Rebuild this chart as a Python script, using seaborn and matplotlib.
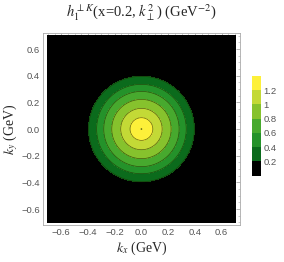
import numpy as np
import seaborn as sns
import matplotlib
import matplotlib.pyplot as plt
from matplotlib.colors import ListedColormap, BoundaryNorm

# radial profile: radius (GeV) where each level is crossed
radius = [0.0, 0.085, 0.155, 0.222, 0.282, 0.335, 0.395, 0.55, 0.75, 1.0]
value = [1.41, 1.2, 1.0, 0.8, 0.6, 0.4, 0.2, 0.06, 0.01, 0.0]

levels = [0.0, 0.2, 0.4, 0.6, 0.8, 1.0, 1.2, 1.4]
band_colors = ['#000000', '#0b6b1c', '#24922a', '#47a92e', '#86c22d', '#c3d936', '#fdf03a']
ticks = [-0.6, -0.4, -0.2, 0.0, 0.2, 0.4, 0.6]
cbar_ticks = [0.2, 0.4, 0.6, 0.8, 1.0, 1.2]

sns.set_style('white')
plt.rcParams['mathtext.fontset'] = 'stix'
plt.rcParams['font.family'] = ['Liberation Sans', 'DejaVu Sans']

# build the grid from the radial profile
k = np.linspace(-0.7, 0.7, 401)
kx, ky = np.meshgrid(k, k)
r = np.hypot(kx, ky)
z = np.interp(r, radius, value)

fig = plt.figure(figsize=(2.84, 2.62), dpi=100)
ax = fig.add_axes([0.151, 0.141, 0.694, 0.733])

cmap = ListedColormap(band_colors)
norm = BoundaryNorm(levels, cmap.N)
ax.contourf(kx, ky, z, levels=levels + [1.6], colors=band_colors + [band_colors[-1]])
ax.contour(kx, ky, z, levels=levels[1:], colors='#1e2a00', linewidths=0.5, alpha=0.7)

ax.set_xlim(-0.737, 0.737)
ax.set_ylim(-0.72, 0.72)
ax.set_aspect('auto')

grey = '#555555'
ax.set_xticks(ticks)
ax.set_yticks(ticks)
ax.set_xticklabels([f'{t:.1f}'.replace('-', '\u2212') for t in ticks])
ax.set_yticklabels([f'{t:.1f}'.replace('-', '\u2212') for t in ticks])
ax.set_xticks(np.arange(-0.7, 0.701, 0.05), minor=True)
ax.set_yticks(np.arange(-0.7, 0.701, 0.05), minor=True)
ax.tick_params(which='both', direction='in', top=True, right=True,
               color='#aaaaaa', labelsize=6.8, labelcolor=grey, pad=2)
ax.tick_params(which='major', length=3, width=0.6)
ax.tick_params(which='minor', length=1.5, width=0.4)
for s in ax.spines.values():
    s.set_color('#aaaaaa')
    s.set_linewidth(0.6)

serif = {'family': 'Liberation Serif', 'size': 10}
ax.set_xlabel(r'$k_x$ (GeV)', fontdict=serif, labelpad=2)
ax.set_ylabel(r'$k_y$ (GeV)', fontdict=serif, labelpad=1)
fig.text(0.497, 0.953, r'$h_1^{\perp K}$(x=0.2, $k_\perp^2$) (GeV$^{-2}$)',
         ha='center', va='center', fontdict={'family': 'Liberation Serif', 'size': 10.5})

cax = fig.add_axes([0.887, 0.33, 0.032, 0.38])
sm = matplotlib.cm.ScalarMappable(norm=norm, cmap=cmap)
cb = fig.colorbar(sm, cax=cax, ticks=cbar_ticks)
cb.ax.minorticks_off()
cb.ax.set_yticklabels(['0.2', '0.4', '0.6', '0.8', '1', '1.2'])
cb.ax.tick_params(labelsize=6.8, labelcolor=grey, length=0, pad=2)
cb.outline.set_visible(False)

fig.savefig('out.png', dpi=100)
